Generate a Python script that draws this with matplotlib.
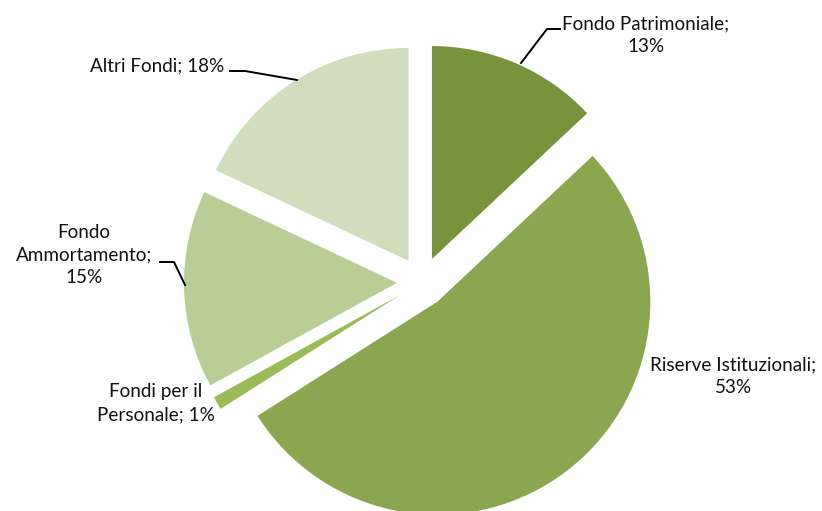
import matplotlib
matplotlib.use("Agg")
import matplotlib.pyplot as plt

labels = ["Fondo Patrimoniale;\n13%", "Riserve Istituzionali;\n53%", "Fondi per il\nPersonale; 1%",
          "Fondo\nAmmortamento;\n15%", "Altri Fondi; 18%"]
shares = [13, 53, 1, 15, 18]
colors = ["#77933C", "#8AA650", "#9BBB59", "#B9CE96", "#D1DEBD"]

plt.rcParams["font.family"] = ["Lato", "DejaVu Sans"]

W, H = 822, 511
fig = plt.figure(figsize=(W / 100, H / 100), dpi=100)
ax = fig.add_axes([0, 0, 1, 1])

# pie in pixel units (y measured upwards)
ax.pie(shares, colors=colors, startangle=90, counterclock=False,
       center=(422, H - 282), radius=213, explode=[25] * len(shares),
       wedgeprops=dict(linewidth=0))
ax.set_xlim(0, W)
ax.set_ylim(0, H)
ax.set_aspect("equal")
ax.axis("off")

txt = dict(fontsize=13.6, color="#111111", ha="center", va="center", linespacing=1.42)
# label centres in pixels from the top-left corner
pos = [(646, 35), (733, 376), (156, 403), (84, 255), (157, 66)]
for lab, (px, py) in zip(labels, pos):
    ax.text(px, H - py, lab, **txt)

leaders = [
    [(560, 29), (547, 29), (521, 63)],
    [(230, 71), (245, 71), (297, 80)],
    [(160, 262), (174, 262), (185, 285)],
]
for pts in leaders:
    xs = [p[0] for p in pts]
    ys = [H - p[1] for p in pts]
    ax.plot(xs, ys, color="black", lw=1.4)

fig.savefig("out.png", dpi=100)
